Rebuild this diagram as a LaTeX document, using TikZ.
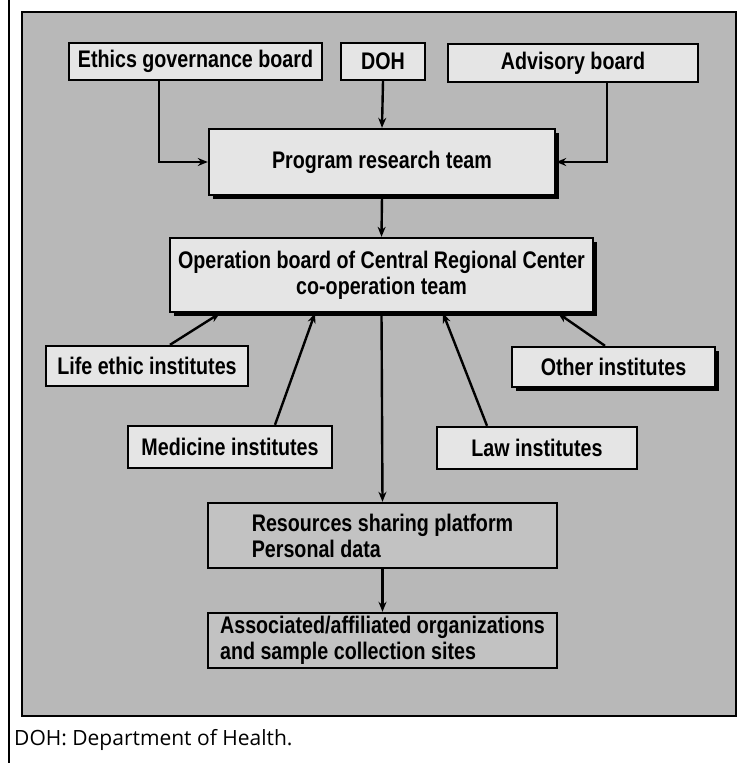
\documentclass[tikz,border=0pt]{standalone}
\usepackage{fontspec}
\newfontfamily\boxfont[FakeStretch=0.82]{Liberation Sans}
\newfontfamily\capfont{Open Sans}
\usetikzlibrary{arrows.meta,shadows}
\tikzset{>=Stealth,
 unit/.style={draw,line width=2.4pt,fill=black!10,inner sep=0pt,align=center,font=\boxfont\bfseries\fontsize{24}{26}\selectfont},
 heavy/.style={unit,drop shadow={shadow xshift=3.5pt,shadow yshift=-3.5pt,fill=black,opacity=1}},
 flow/.style={line width=2.4pt,-{Stealth[length=10pt,width=8pt]}}}

\begin{document}
\begin{tikzpicture}[x=1pt,y=-1pt]
% Panneau gris : conseils en haut, instituts autour du bureau, plateforme en bas.
\useasboundingbox (0,0) rectangle (745,763);
\draw[line width=1.4pt] (9,0)--(9,763);
\draw[line width=2pt,fill=black!28] (22,12) rectangle (736,716);
\node[unit,minimum width=253pt,minimum height=37pt] (ethics) at (195.5,61.5){Ethics governance board};
\node[unit,minimum width=84pt,minimum height=37pt] (doh) at (383,61.5){DOH};
\node[unit,minimum width=250pt,minimum height=38pt] (advisory) at (573,63){Advisory board};
\node[heavy,minimum width=346pt,minimum height=66pt] (program) at (382,162){Program research team};
\node[heavy,minimum width=423pt,minimum height=74pt] (operation) at (381.5,275){Operation board of Central Regional Center\\co-operation team};
\node[unit,minimum width=202pt,minimum height=40pt] (life) at (147,366){Life ethic institutes};
\node[heavy,minimum width=203pt,minimum height=40pt] (other) at (613.5,367){Other institutes};
\node[unit,minimum width=204pt,minimum height=42pt] (medicine) at (230,447){Medicine institutes};
\node[unit,minimum width=200pt,minimum height=42pt] (law) at (537,448){Law institutes};
\node[unit,fill=black!24,align=left,minimum width=349pt,minimum height=65pt] (platform) at (382.5,535.5){Resources sharing platform\\Personal data};
\node[unit,fill=black!24,align=left,minimum width=349pt,minimum height=55pt] (sites) at (382.5,640.5){Associated/affiliated organizations\\and sample collection sites};
\draw[flow] ([xshift=-36.5pt]ethics.south) |- (program.west);
\draw[flow] (doh.south)--(program.north);
\draw[flow] ([xshift=34pt]advisory.south) |- (program.east);
\draw[flow] (program.south)--(operation.north);
\draw[flow] ([xshift=23pt]life.north)--([xshift=-161.5pt]operation.south);
\draw[flow] ([xshift=45pt]medicine.north)--([xshift=-66.5pt]operation.south);
\draw[flow] ([xshift=-50pt]law.north)--([xshift=61.5pt]operation.south);
\draw[flow] ([xshift=-8.5pt]other.north)--([xshift=176.5pt]operation.south);
\draw[flow] (operation.south)--(platform.north);
\draw[flow] (platform.south)--(sites.north);
\node[anchor=west,inner sep=0pt,font=\capfont\fontsize{21}{25}\selectfont] (note) at (14,740){DOH: Department of Health.};
\end{tikzpicture}
\end{document}
